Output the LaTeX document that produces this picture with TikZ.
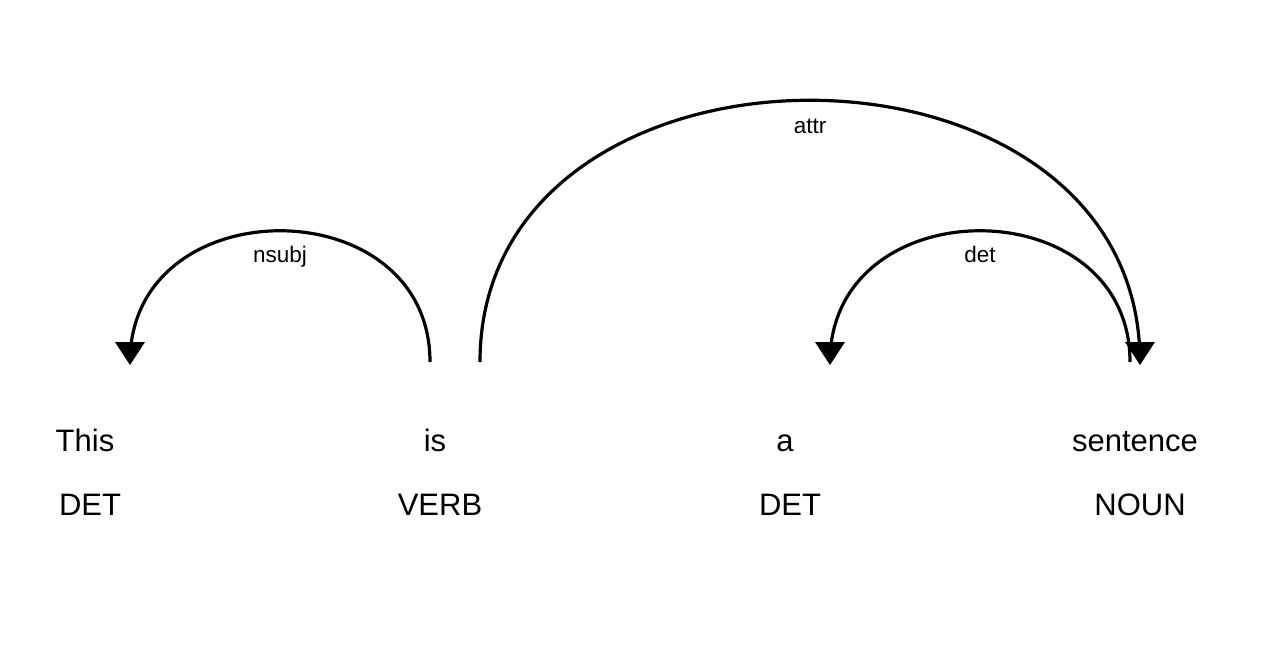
\documentclass[tikz,border=0pt]{standalone}
\usepackage{fontspec}
\setmainfont{Liberation Sans}
\usetikzlibrary{calc}
\tikzset{
  word/.style={inner sep=0pt, anchor=base, font=\fontsize{31}{37}\selectfont},
  tag/.style={inner sep=0pt, anchor=base, font=\fontsize{31}{37}\selectfont},
  arclabel/.style={inner sep=0pt, anchor=base, font=\fontsize{22.5}{27}\selectfont},
  arc/.style={line width=3.2pt},
  tip/.style={fill=black}
}
\begin{document}
\begin{tikzpicture}[x=1pt,y=-1pt]
\useasboundingbox[fill=white] (0,0) rectangle (1280,646);
% words and tags
\node[word] (w0) at (85,451) {This};
\node[word] (w1) at (435,451) {is};
\node[word] (w2) at (785,451) {a};
\node[word] (w3) at (1135,451) {sentence};
\node[tag] (t0) at (90,515) {DET};
\node[tag] (t1) at (440,515) {VERB};
\node[tag] (t2) at (790,515) {DET};
\node[tag] (t3) at (1140,515) {NOUN};
% arc end points
\coordinate (a0) at (130,362);
\coordinate (b1) at (430,362);
\coordinate (c1) at (480,362);
\coordinate (a2) at (830,362);
\coordinate (d3) at (1130,362);
\coordinate (a3) at (1140,362);
% arcs
\draw[arc] (b1) .. controls +(0,-175) and +(0,-175) .. (a0);
\draw[arc] (c1) .. controls +(0,-349) and +(0,-349) .. (a3);
\draw[arc] (d3) .. controls +(0,-175) and +(0,-175) .. (a2);
% arrowheads
\fill[tip] ($(a0)+(0,3)$) -- ++(-15,-23) -- ++(30,0) -- cycle;
\fill[tip] ($(a2)+(0,3)$) -- ++(-15,-23) -- ++(30,0) -- cycle;
\fill[tip] ($(a3)+(0,3)$) -- ++(-15,-23) -- ++(30,0) -- cycle;
% labels
\node[arclabel] (l1) at (280,262) {nsubj};
\node[arclabel] (l2) at (810,133) {attr};
\node[arclabel] (l3) at (980,262) {det};
\end{tikzpicture}
\end{document}
